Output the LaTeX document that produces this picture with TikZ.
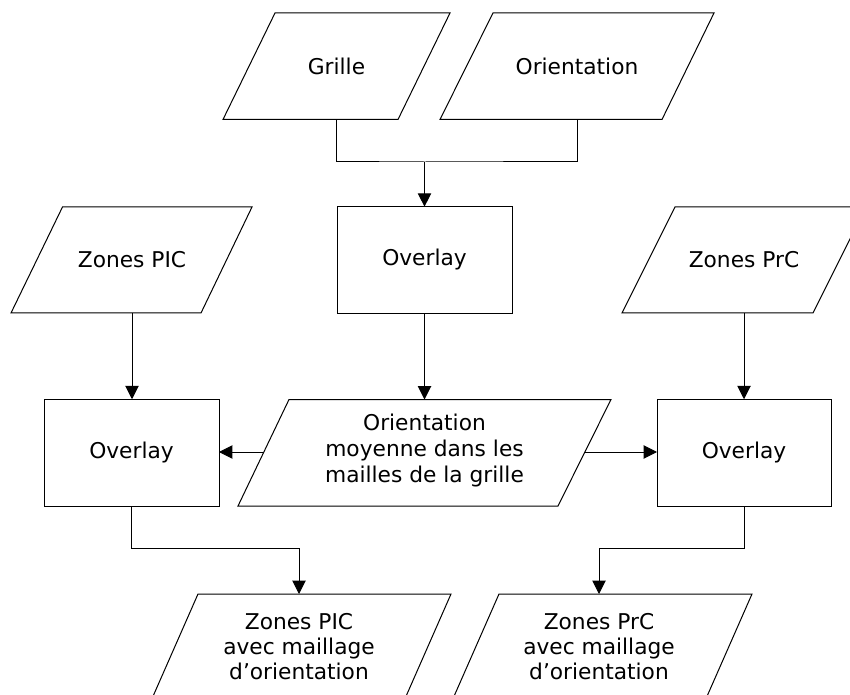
\documentclass[tikz,border=0pt]{standalone}
\usepackage{fontspec}
\setmainfont{DejaVu Sans}
\usetikzlibrary{arrows.meta}
\begin{document}
\begin{tikzpicture}[x=0.75pt,y=-0.75pt,line width=0.75pt,
  outline/.style={draw=black,line join=miter},
  txt/.style={font=\fontsize{16.3}{19.5}\selectfont,align=center,inner sep=0pt},
  txtb/.style={font=\fontsize{16.3}{18.75}\selectfont,align=center,inner sep=0pt},
  box/.style={draw=black,minimum width=131.25pt,minimum height=80pt,inner sep=0pt,outer sep=0pt,font=\fontsize{16.3}{19.5}\selectfont},
  flow/.style={draw=black,-{Triangle[length=10pt,width=10pt]}},
  link/.style={draw=black}]
\useasboundingbox (0,0) rectangle (850,695);
\clip (0,0) rectangle (850,695);

% parallelograms (inputs / outputs)
\draw[outline] (275,13) -- (450,13) -- (398,119.5) -- (223,119.5) -- cycle;
\node[txt] (grille) at (336.5,66) {Grille};
\coordinate (grilleS) at (336.5,119.5);

\draw[outline] (493,13) -- (714,13) -- (662,119.5) -- (440,119.5) -- cycle;
\node[txt] (orient) at (577,66) {Orientation};
\coordinate (orientS) at (577,119.5);

\draw[outline] (62.5,207) -- (252,207) -- (201,313) -- (11,313) -- cycle;
\node[txt] (zpic) at (132,260) {Zones PIC};
\coordinate (zpicS) at (132,313);

\draw[outline] (675,207) -- (866,207) -- (813,313) -- (622,313) -- cycle;
\node[txt] (zprc) at (744,260) {Zones PrC};
\coordinate (zprcS) at (744,313);

\draw[outline] (289,399.5) -- (611,399.5) -- (558,506) -- (238,506) -- cycle;
\node[txt] (moy) at (424.5,451) {Orientation\\moyenne dans les\\mailles de la grille};
\coordinate (moyN) at (424.5,399.5);
\coordinate (moyW) at (264,452);
\coordinate (moyE) at (585,452);

\draw[outline] (198,594) -- (451,594) -- (400,710) -- (147,710) -- cycle;
\node[txtb] (opic) at (299,647) {Zones PIC\\avec maillage\\d’orientation};
\coordinate (opicN) at (299,594);

\draw[outline] (499,594) -- (752,594) -- (701,710) -- (448,710) -- cycle;
\node[txtb] (oprc) at (599,647) {Zones PrC\\avec maillage\\d’orientation};
\coordinate (oprcN) at (599,594);

% process boxes
\node[box] (ovc) at (424.5,260) {Overlay};
\node[box,minimum height=80.25pt] (ovl) at (131.5,452.75) {Overlay};
\node[box,minimum width=130.5pt,minimum height=80.25pt] (ovr) at (744,452.75) {Overlay};

% connectors
\coordinate (join) at (424.5,162);
\draw[link] (grilleS) |- (join) -| (orientS);
\draw[flow] (join) -- (ovc.north);
\draw[flow] (ovc.south) -- (moyN);
\draw[flow] (zpicS) -- (zpicS |- ovl.north);
\draw[flow] (zprcS) -- (zprcS |- ovr.north);
\draw[flow] (moyW) -- (moyW -| ovl.east);
\draw[flow] (moyE) -- (moyE -| ovr.west);
\draw[flow] (ovl.south) -- ++(0,42) -| (opicN);
\draw[flow] (ovr.south) -- ++(0,42) -| (oprcN);
\end{tikzpicture}
\end{document}
